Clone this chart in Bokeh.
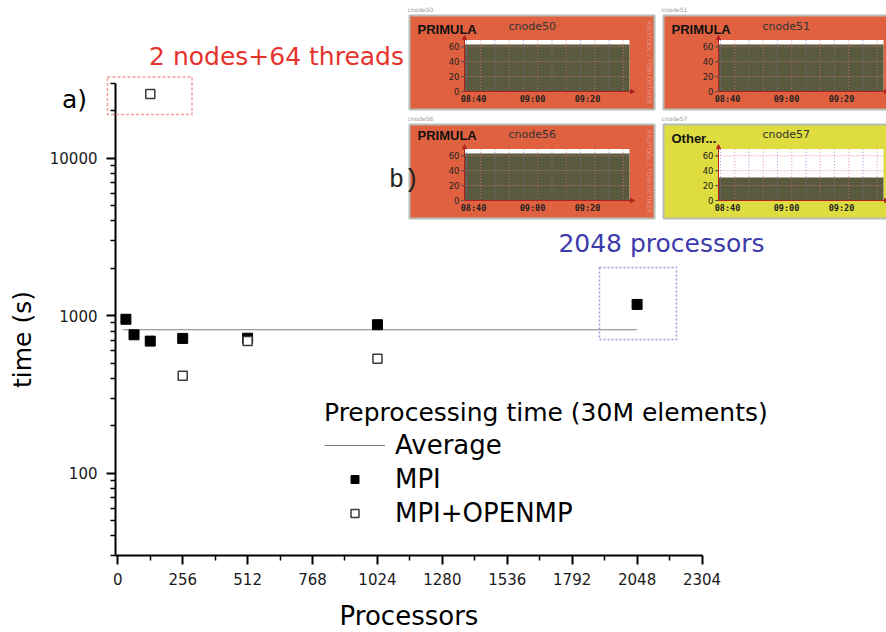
import numpy as np
from bokeh.plotting import figure
from bokeh.models import (Range1d, LinearScale, FixedTicker, PrintfTickFormatter,
                          BoxAnnotation, Label, Arrow, NormalHead, Legend, LegendItem)
from bokeh.embed import file_html
from bokeh.resources import INLINE

# ---------------- data ----------------
mpi_procs = [32, 64, 128, 256, 512, 1024, 2048]
mpi_time = [950, 757, 690, 718, 720, 877, 1180]
hyb_procs = [128, 256, 512, 1024]
hyb_time = [25600, 416, 690, 533]
avg_procs = [20, 2048]
avg_time = [815, 815]
x_ticks = [0, 256, 512, 768, 1024, 1280, 1536, 1792, 2048, 2304]
x_minor = [128, 384, 640, 896, 1152, 1408, 1664, 1920, 2176]
y_ticks = [100, 1000, 10000]

inset_nodes = ["cnode50", "cnode51", "cnode56", "cnode57"]
inset_state = ["PRIMULA", "PRIMULA", "PRIMULA", "Other..."]
inset_load = [63, 63, 63, 31]
inset_colors = ["#e0613f", "#e0613f", "#e0613f", "#dedc3e"]
inset_yticks = [0, 20, 40, 60]
inset_times = ["08:40", "09:00", "09:20"]

# ---------------- layout (canvas pixels) ----------------
W, H = 886, 632
AX_LEFT, AX_BOTTOM, AX_TOP = 115, 555, 82.7
X0_PIX, XEND_PIX = 117.3, 701.5
XMAX, YMIN, YMAX = 2304, 30, 30000

x_ppu = (XEND_PIX - X0_PIX) / XMAX
x_start = -X0_PIX / x_ppu
x_end = (W - X0_PIX) / x_ppu
y_axis_x = (AX_LEFT - X0_PIX) / x_ppu
dec_px = (AX_BOTTOM - AX_TOP) / (np.log10(YMAX) - np.log10(YMIN))
y_lo = 10 ** (np.log10(YMIN) - (H - AX_BOTTOM) / dec_px)
y_hi = 10 ** (np.log10(YMAX) + AX_TOP / dec_px)

y_minor = [m * 10 ** e for e in (1, 2, 3, 4) for m in range(2, 10) if YMIN <= m * 10 ** e <= YMAX]

p = figure(width=W, height=H, min_border=0,
           x_range=Range1d(x_start, x_end), y_range=Range1d(y_lo, y_hi), y_axis_type="log",
           output_backend="svg", toolbar_location=None,
           background_fill_color="white", border_fill_color="white",
           outline_line_color=None)
p.grid.visible = False

# pixel helper ranges for decorations
p.extra_x_ranges = {"px": Range1d(0, W)}
INS_PPU = 0.745
row_zero = [91, 200]
yr = {"py": Range1d(H, 0)}
for r, z in enumerate(row_zero):
    yr[f"row{r}"] = Range1d((z - H) / INS_PPU, z / INS_PPU)
p.extra_y_ranges = yr
p.extra_y_scales = {k: LinearScale() for k in yr}
p.extra_x_scales = {"px": LinearScale()}

# axes (drawn at fixed locations, bounded like the original)
xa, ya = p.xaxis[0], p.yaxis[0]
xa.fixed_location = YMIN
xa.bounds = (y_axis_x, XMAX)
ya.fixed_location = y_axis_x
ya.bounds = (YMIN, YMAX)
xa.ticker = FixedTicker(ticks=x_ticks, minor_ticks=x_minor)
ya.ticker = FixedTicker(ticks=y_ticks, minor_ticks=y_minor)
ya.formatter = PrintfTickFormatter(format="%d")
for ax in (xa, ya):
    ax.axis_line_width = 2
    ax.axis_line_color = "black"
    ax.major_tick_line_width = 2
    ax.major_tick_out = 9
    ax.major_tick_in = 0
    ax.minor_tick_line_width = 1.5
    ax.minor_tick_out = 5
    ax.minor_tick_in = 0
    ax.major_label_text_font = "DejaVu Sans"
    ax.major_label_text_font_size = "15px"
    ax.major_label_text_color = "#1a1a1a"
xa.major_label_standoff = 8
ya.major_label_standoff = 9
xa.axis_label = "Processors"
xa.axis_label_text_font = "DejaVu Sans"
xa.axis_label_text_font_size = "26px"
xa.axis_label_text_font_style = "normal"
xa.axis_label_text_color = "black"
xa.axis_label_standoff = 13

# glyphs
r_avg = p.line(avg_procs, avg_time, line_color="#808080", line_width=1.2)
r_mpi = p.scatter(mpi_procs, mpi_time, marker="square", size=10,
                  fill_color="black", line_color="black")
r_hyb = p.scatter(hyb_procs, hyb_time, marker="square", size=9,
                  fill_color="white", line_color="#3a3a3a", line_width=1.5)

legend = Legend(items=[LegendItem(label="Average", renderers=[r_avg]),
                       LegendItem(label="MPI", renderers=[r_mpi]),
                       LegendItem(label="MPI+OPENMP", renderers=[r_hyb])],
                location=(324, 104), title="Preprocessing time (30M elements)",
                title_text_font="DejaVu Sans", title_text_font_size="25px",
                title_text_font_style="normal", title_text_color="black", title_standoff=3,
                label_text_font="DejaVu Sans", label_text_font_size="26px",
                label_text_color="black", glyph_width=61, glyph_height=20,
                label_standoff=10, spacing=4, padding=0, margin=0,
                border_line_color=None, background_fill_alpha=0)
p.add_layout(legend)


def box(l, r, t, b, fill=None, line=None, lw=1.0, dash="solid", yname="py", alpha=1.0, lalpha=1.0):
    p.add_layout(BoxAnnotation(left=l, right=r, top=t, bottom=b,
                               x_range_name="px", y_range_name=yname,
                               fill_color=fill, fill_alpha=alpha if fill else 0,
                               line_color=line, line_width=lw, line_dash=dash,
                               line_alpha=lalpha if line else 0))


def label(x, y, text, size, color="black", font="DejaVu Sans", style="normal",
          align="center", baseline="middle", angle=0.0, yname="py"):
    p.add_layout(Label(x=x, y=y, text=text, x_range_name="px", y_range_name=yname,
                       text_font=font, text_font_size=f"{size}px", text_font_style=style,
                       text_color=color, text_align=align, text_baseline=baseline,
                       angle=angle))


# main annotations
label(22, 339, "time (s)", 25, angle=np.pi / 2)
label(276, 56, "2 nodes+64 threads", 25, color="#e6322d")
box(107, 191.5, 76.5, 114, line="#f39c9c", lw=1.5, dash="3 2")
label(74, 99, "a)", 25)
label(661, 243, "2048 processors", 25, color="#3c3caa")
box(599, 676, 267, 339, line="#9a9ae0", lw=1.5, dash="2 2")

# insets (monitoring screenshots)
for i in range(4):
    col, row = i % 2, i // 2
    dx, dy = 254 * col, 109 * row
    yname = f"row{row}"
    label(407 + dx, 9 + dy, inset_nodes[i], 6, color="#9a9a9a", align="left")
    box(409 + dx, 654 + dx, 15 + dy, 109 + dy, fill=inset_colors[i], line="#b5bdb5", lw=2)
    sy = 29 + dy - 3 * row + (3 if inset_state[i].startswith("Other") else 0)
    label(417 + dx, sy, inset_state[i], 13, font="Liberation Sans", style="bold",
          align="left", color="#111")
    label(508 + dx, 26 + dy - 1 * row, inset_nodes[i], 11, color="#333", align="left")
    # chart area
    box(464 + dx, 629 + dx, 69, 0, fill="white", yname=yname)
    box(464 + dx, 629 + dx, inset_load[i], 0, fill="#5a5a3e", yname=yname)
    for v in (20, 40, 60):
        box(464 + dx, 629 + dx, v, v, line="#e08080", lw=1, dash="1 2", yname=yname, lalpha=0.5)
    for k in range(12):
        xv = 466 + dx + 14.25 * k
        if xv < 629 + dx:
            box(xv, xv, 69, 0, line="#e08080" if k % 2 else "#8080d0", lw=1, dash="1 2",
                yname=yname, lalpha=0.45)
    for v in inset_yticks:
        label(459 + dx, v, str(v), 8.5, color="#222", align="right", yname=yname)
        box(461 + dx, 464 + dx, v, v, line="#555", lw=1, yname=yname)
    for t, xc in zip(inset_times, (473, 532, 587)):
        label(xc + dx, 98 + dy, t, 8.5, font="DejaVu Sans Mono", style="bold", color="#222")
    head_y = NormalHead(size=4, fill_color="#b02020", line_color="#b02020")
    p.add_layout(Arrow(end=head_y, x_start=464 + dx, y_start=0, x_end=464 + dx, y_end=75,
                       x_range_name="px", y_range_name=yname,
                       line_color="#b02020", line_width=1))
    head_x = NormalHead(size=4, fill_color="#b02020", line_color="#b02020")
    p.add_layout(Arrow(end=head_x, x_start=464 + dx, y_start=0, x_end=634 + dx, y_end=0,
                       x_range_name="px", y_range_name=yname,
                       line_color="#b02020", line_width=1))
    if col == 0:
        label(648 + dx, 62 + dy, "RRDTOOL / TOBI OETIKER", 6.5, color="#e8968a",
              angle=-np.pi / 2)

label(403.5, 180, "b)", 25, font="Liberation Mono", color="#222")

open("out.html", "w").write(file_html(p, INLINE))
